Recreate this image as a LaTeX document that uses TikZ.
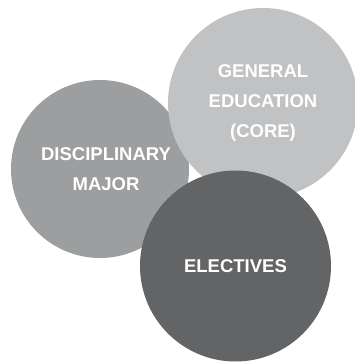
\documentclass[tikz,border=0pt]{standalone}
\usepackage{fontspec}
\setmainfont{Liberation Sans}
\usepackage{xcolor}
\usetikzlibrary{positioning}
\definecolor{coregray}{HTML}{C1C2C4}
\definecolor{majorgray}{HTML}{9D9EA0}
\definecolor{electgray}{HTML}{636466}

\tikzset{
  bubble/.style={circle, inner sep=0pt, text=white, align=center,
    font=\fontsize{18.5}{30}\selectfont\bfseries}
}

\begin{document}
\begin{tikzpicture}[x=1pt, y=-1pt]
      \useasboundingbox (0,0) rectangle (354,362);

      \node[bubble, fill=majorgray, minimum size=178pt] (major) at (100,169) {};
      \node at (106,169) [font=\fontsize{18.5}{30}\selectfont\bfseries, text=white, align=center] (majortext) {DISCIPLINARY\\MAJOR};

      \node[bubble, fill=coregray, minimum size=190pt] (core) at (263,103) {GENERAL\\EDUCATION\\(CORE)};

      \node[bubble, fill=electgray, minimum size=191pt] (electives) at (235.5,266) {ELECTIVES};
    \end{tikzpicture}
\end{document}
